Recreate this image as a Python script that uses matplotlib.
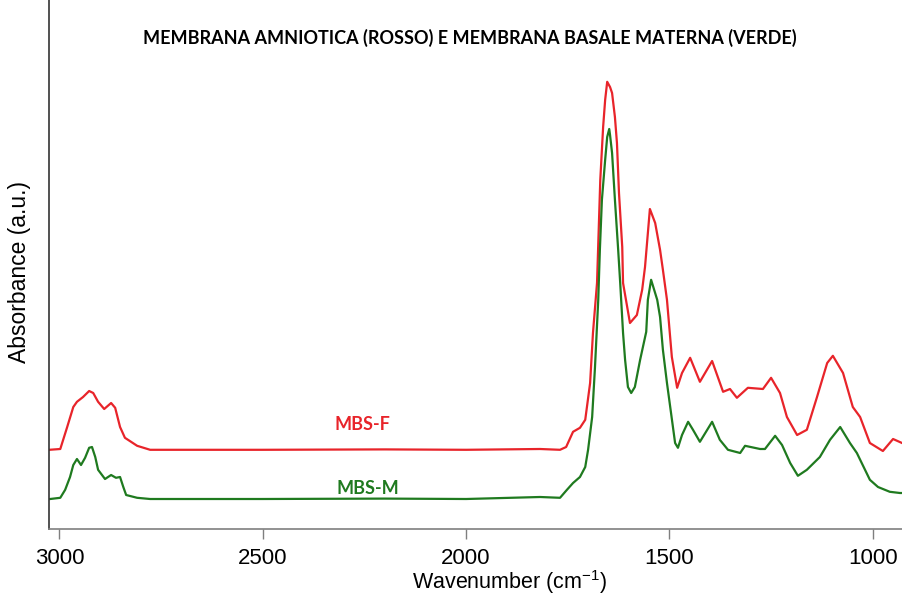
import matplotlib.pyplot as plt

# MBS-F (red) spectrum: wavenumber (cm-1) and absorbance (a.u.)
wn_f = [3025, 2998, 2981, 2966, 2957, 2942, 2927, 2917, 2905, 2890, 2873, 2863,
        2851, 2839, 2809, 2777, 2500, 2200, 2000, 1818, 1769, 1754, 1737, 1720,
        1707, 1695, 1688, 1678, 1670, 1663, 1658, 1653, 1646, 1641, 1634, 1629,
        1624, 1616, 1614, 1597, 1580, 1567, 1560, 1548, 1535, 1523, 1516, 1506,
        1494, 1481, 1469, 1449, 1425, 1395, 1368, 1351, 1334, 1307, 1270, 1250,
        1228, 1211, 1186, 1162, 1137, 1112, 1098, 1073, 1049, 1031, 1007, 975,
        950, 928]
ab_f = [0.198, 0.200, 0.255, 0.305, 0.318, 0.330, 0.345, 0.340, 0.318, 0.300, 0.315, 0.303,
        0.255, 0.228, 0.208, 0.198, 0.198, 0.199, 0.198, 0.200, 0.198, 0.205, 0.243, 0.253,
        0.273, 0.365, 0.490, 0.615, 0.873, 1.005, 1.073, 1.118, 1.105, 1.090, 1.030, 0.965,
        0.840, 0.705, 0.615, 0.515, 0.535, 0.598, 0.655, 0.800, 0.765, 0.698, 0.648, 0.573,
        0.430, 0.353, 0.390, 0.428, 0.368, 0.420, 0.343, 0.350, 0.328, 0.353, 0.350, 0.378,
        0.340, 0.280, 0.235, 0.248, 0.330, 0.415, 0.433, 0.390, 0.305, 0.280, 0.215, 0.195,
        0.225, 0.215]

# MBS-M (green) spectrum
wn_m = [3023, 2998, 2986, 2974, 2966, 2957, 2947, 2937, 2927, 2920, 2912, 2905,
        2888, 2873, 2861, 2851, 2843, 2836, 2809, 2777, 2500, 2200, 2000, 1818,
        1769, 1752, 1737, 1720, 1707, 1700, 1690, 1683, 1675, 1671, 1666, 1658,
        1653, 1648, 1646, 1641, 1634, 1626, 1621, 1614, 1609, 1602, 1594, 1585,
        1572, 1557, 1553, 1545, 1530, 1523, 1516, 1506, 1498, 1486, 1479, 1469,
        1454, 1442, 1425, 1395, 1376, 1356, 1326, 1314, 1277, 1265, 1240, 1223,
        1203, 1184, 1162, 1130, 1105, 1080, 1056, 1039, 1007, 987, 958, 933, 928]
ab_m = [0.075, 0.078, 0.098, 0.130, 0.160, 0.175, 0.160, 0.178, 0.203, 0.205, 0.180, 0.148,
        0.125, 0.135, 0.128, 0.130, 0.105, 0.085, 0.078, 0.075, 0.075, 0.076, 0.075, 0.080,
        0.078, 0.098, 0.115, 0.130, 0.155, 0.198, 0.280, 0.405, 0.573, 0.698, 0.823, 0.923,
        0.980, 1.000, 0.985, 0.940, 0.823, 0.698, 0.615, 0.490, 0.423, 0.355, 0.340, 0.355,
        0.423, 0.493, 0.573, 0.623, 0.573, 0.530, 0.448, 0.365, 0.305, 0.215, 0.203, 0.235,
        0.268, 0.248, 0.218, 0.268, 0.223, 0.198, 0.190, 0.208, 0.200, 0.200, 0.233, 0.210,
        0.165, 0.133, 0.148, 0.180, 0.223, 0.255, 0.215, 0.190, 0.123, 0.105, 0.093, 0.090, 0.090]

red = '#e8242a'
green = '#1f7a1f'

plt.rcParams['font.family'] = ['Liberation Sans', 'DejaVu Sans']
plt.rcParams['mathtext.fontset'] = 'custom'
plt.rcParams['mathtext.rm'] = 'Liberation Sans'

fig = plt.figure(figsize=(9.02, 5.98), dpi=100)
ax = fig.add_axes([49.3 / 902, 1 - 529 / 598, 1 - 49.3 / 902, 529 / 598])

ax.plot(wn_f, ab_f, color=red, linewidth=1.6)
ax.plot(wn_m, ab_m, color=green, linewidth=1.6)

ax.set_xlim(3025, 928)
ax.set_ylim(0, 1.3225)
ax.set_xticks([3000, 2500, 2000, 1500, 1000])
ax.set_yticks([])
ax.tick_params(axis='x', direction='out', length=7, width=1, color='#7f7f7f',
               labelsize=16, pad=7)

for s in ['top', 'right']:
    ax.spines[s].set_visible(False)
ax.spines['left'].set_color('#333333')
ax.spines['bottom'].set_color('#7f7f7f')
ax.spines['left'].set_linewidth(1.2)
ax.spines['bottom'].set_linewidth(1.2)

# labels placed like the original (axis extends past the cropped right edge)
fig.text(510 / 902, 1 - 582 / 598, r'Wavenumber (cm$^{\mathregular{-1}}$)',
         fontsize=15.5, ha='center', va='center')
fig.text(20 / 902, 1 - 272 / 598, 'Absorbance (a.u.)', fontsize=16.5,
         rotation=90, ha='center', va='center')

fig.text(470 / 902, 1 - 38 / 598,
         'MEMBRANA AMNIOTICA (ROSSO) E MEMBRANA BASALE MATERNA (VERDE)',
         fontsize=13, fontweight='bold', family=['Lato', 'DejaVu Sans'],
         ha='center', va='center')

ax.text(2256, (529 - 425) * 0.0025, 'MBS-F', color=red, fontsize=13,
        fontweight='bold', family=['Lato', 'DejaVu Sans'], ha='center', va='center')
ax.text(2241, (529 - 489) * 0.0025, 'MBS-M', color=green, fontsize=13,
        fontweight='bold', family=['Lato', 'DejaVu Sans'], ha='center', va='center')

plt.savefig('out.png', dpi=100)
